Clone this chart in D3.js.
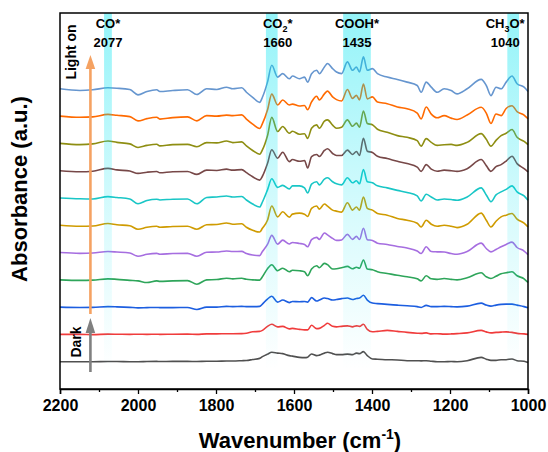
<!DOCTYPE html>
<html>
<head>
<meta charset="utf-8">
<script src="https://cdn.jsdelivr.net/npm/d3@7"></script>
<style>
  body { margin: 0; background: #fff; }
  text { font-family: Arial, "Liberation Sans", sans-serif; font-weight: bold; fill: #000; }
</style>
</head>
<body>
<div id="chart"></div>
<script>
// wavenumber grid (cm-1), shared by all spectra
var wavenumbers = [
  2200, 2149, 2116, 2077, 2054, 2021, 2000, 1977, 1952, 1944,
  1911, 1873, 1849, 1824, 1798, 1773, 1757, 1734, 1722, 1706,
  1688, 1681, 1668, 1657, 1642, 1629, 1612, 1604, 1586, 1573,
  1565, 1555, 1542, 1535, 1522, 1514, 1501, 1491, 1478, 1463,
  1450, 1440, 1432, 1422, 1412, 1399, 1386, 1361, 1335, 1310,
  1284, 1274, 1261, 1248, 1233, 1215, 1197, 1182, 1156, 1120,
  1107, 1095, 1082, 1069, 1056, 1041, 1028, 1010, 1000
];

// spectra, bottom (dark) to top (longest light on)
var specDark = [
  0, 0, 0, 0.002, 0.002, 0, 0, 0.002, 0.003, 0.002,
  0.003, 0.003, 0.002, 0.005, 0.005, 0.007, 0.007, 0.010, 0.012, 0.022,
  0.033, 0.050, 0.075, 0.093, 0.085, 0.080, 0.060, 0.055, 0.043, 0.040,
  0.045, 0.077, 0.060, 0.065, 0.085, 0.093, 0.080, 0.070, 0.070, 0.075,
  0.070, 0.085, 0.080, 0.100, 0.060, 0.027, 0.025, 0.020, 0.017, 0.010,
  0.010, 0.008, 0.010, 0.005, 0, 0, 0.002, 0, 0.010, 0.043,
  0.025, 0.013, 0.013, 0.020, 0.020, 0.027, 0.010, 0.005, -0.007
];
var spec1 = [
  0, 0, -0.002, 0.003, 0.002, 0, 0.002, 0, 0.002, 0,
  0.002, 0.003, 0, 0.005, 0.005, 0.007, 0.007, 0.008, 0.012, 0.026,
  0.030, 0.040, 0.080, 0.100, 0.075, 0.080, 0.055, 0.060, 0.050, 0.045,
  0.045, 0.090, 0.057, 0.060, 0.090, 0.110, 0.080, 0.075, 0.080, 0.085,
  0.075, 0.085, 0.080, 0.100, 0.050, 0.026, 0.030, 0.040, 0.030, 0.020,
  0.012, 0.010, 0.015, 0.005, 0.007, 0.003, 0.005, 0.008, 0.015, 0.040,
  0.025, 0.015, 0.020, 0.023, 0.025, 0.020, 0.010, 0.005, 0
];
var spec2 = [
  0, -0.003, -0.002, 0.005, 0.003, -0.002, -0.007, -0.005, -0.003, -0.005,
  -0.005, -0.003, -0.023, 0, 0, 0.007, 0.005, 0.007, 0.005, 0.005,
  0.007, 0.030, 0.080, 0.107, 0.050, 0.070, 0.045, 0.055, 0.053, 0.055,
  0.050, 0.094, 0.060, 0.070, 0.090, 0.085, 0.070, 0.075, 0.084, 0.090,
  0.075, 0.085, 0.090, 0.117, 0.070, 0.040, 0.035, 0.027, 0.020, 0.013,
  0.005, -0.003, 0.017, 0.005, 0.005, 0.007, 0.005, 0.003, 0.010, 0.040,
  0.020, 0.010, 0.020, 0.027, 0.030, 0.030, 0.020, 0.005, -0.007
];
var spec3 = [
  0, -0.005, -0.003, 0.010, 0.005, -0.005, -0.010, -0.027, -0.010, -0.015,
  -0.010, -0.008, -0.043, 0, 0.003, 0.016, 0.010, 0.015, 0.005, 0,
  -0.003, 0.030, 0.110, 0.150, 0.090, 0.115, 0.080, 0.095, 0.090, 0.080,
  0.040, 0.107, 0.140, 0.120, 0.163, 0.150, 0.107, 0.110, 0.120, 0.133,
  0.110, 0.125, 0.115, 0.197, 0.107, 0.100, 0.080, 0.063, 0.045, 0.030,
  0.010, -0.010, 0.040, 0.010, 0.005, 0.013, 0.005, 0, 0.020, 0.070,
  0.030, 0.013, 0.035, 0.060, 0.070, 0.080, 0.040, 0.010, -0.027
];
var spec4 = [
  0, -0.008, -0.005, 0.010, 0.005, -0.005, -0.037, -0.017, -0.008, -0.017,
  -0.010, -0.008, -0.037, 0.003, 0.005, 0.016, 0.010, 0.012, -0.010, -0.025,
  -0.030, 0.010, 0.080, 0.170, 0.083, 0.123, 0.085, 0.100, 0.090, 0.080,
  0.057, 0.127, 0.150, 0.130, 0.193, 0.175, 0.140, 0.120, 0.125, 0.180,
  0.130, 0.160, 0.130, 0.240, 0.127, 0.120, 0.093, 0.080, 0.060, 0.045,
  0.015, -0.010, 0.057, 0.010, 0.007, 0.005, -0.010, -0.017, 0.010, 0.093,
  0.040, 0.007, 0.030, 0.057, 0.080, 0.103, 0.050, 0.015, -0.020
];
var spec5 = [
  0, -0.010, -0.008, 0.017, 0.005, -0.005, -0.040, -0.020, -0.010, -0.020,
  -0.012, -0.010, -0.040, 0.005, 0.008, 0.023, 0.010, 0.015, -0.020, -0.050,
  -0.067, -0.030, 0.050, 0.190, 0.083, 0.133, 0.080, 0.110, 0.120, 0.110,
  0.087, 0.167, 0.190, 0.160, 0.210, 0.190, 0.150, 0.140, 0.130, 0.223,
  0.150, 0.180, 0.150, 0.280, 0.167, 0.150, 0.117, 0.100, 0.067, 0.050,
  0.020, -0.017, 0.050, 0.010, -0.010, 0, -0.010, -0.023, 0.010, 0.120,
  0.050, -0.017, 0.040, 0.083, 0.100, 0.117, 0.060, 0.020, -0.017
];
var spec6 = [
  0, -0.008, -0.010, 0.013, 0.005, -0.010, -0.057, -0.025, -0.012, -0.020,
  -0.012, -0.010, -0.057, 0.005, 0.010, 0.020, 0.010, 0.015, -0.020, -0.060,
  -0.090, -0.040, 0.080, 0.190, 0.105, 0.125, 0.090, 0.120, 0.120, 0.100,
  0.050, 0.137, 0.160, 0.130, 0.187, 0.200, 0.160, 0.140, 0.130, 0.200,
  0.150, 0.170, 0.140, 0.280, 0.160, 0.150, 0.120, 0.100, 0.075, 0.055,
  0.020, -0.030, 0.037, 0.010, -0.020, -0.010, -0.015, -0.023, 0.010, 0.100,
  0.030, -0.037, 0.030, 0.060, 0.085, 0.120, 0.060, 0.020, -0.023
];
var spec7 = [
  0, -0.010, -0.005, 0.023, 0.008, -0.003, -0.027, -0.015, -0.008, -0.020,
  -0.010, -0.008, -0.037, 0.005, 0.002, 0.015, 0.005, 0.010, -0.020, -0.060,
  -0.093, -0.055, 0.070, 0.207, 0.123, 0.183, 0.090, 0.110, 0.093, 0.100,
  0.027, 0.140, 0.160, 0.140, 0.200, 0.217, 0.170, 0.150, 0.150, 0.203,
  0.160, 0.190, 0.150, 0.320, 0.193, 0.180, 0.143, 0.120, 0.093, 0.070,
  0.035, -0.007, 0.060, 0.015, -0.005, 0.005, 0, -0.007, 0.020, 0.110,
  0.050, -0.007, 0.040, 0.060, 0.095, 0.143, 0.070, 0.020, -0.013
];
var spec8 = [
  0, -0.012, -0.005, 0.023, 0.010, -0.005, -0.040, -0.020, -0.008, -0.025,
  -0.012, -0.010, -0.033, 0.008, 0.005, 0.023, 0.008, 0.015, -0.025, -0.070,
  -0.107, -0.065, 0.075, 0.257, 0.117, 0.167, 0.100, 0.120, 0.090, 0.095,
  0.050, 0.150, 0.183, 0.150, 0.220, 0.233, 0.180, 0.150, 0.160, 0.233,
  0.170, 0.200, 0.160, 0.320, 0.197, 0.185, 0.140, 0.110, 0.077, 0.060,
  0.027, -0.027, 0.047, 0.010, -0.020, -0.013, -0.010, -0.020, 0.010, 0.097,
  0.040, -0.027, 0.030, 0.077, 0.100, 0.137, 0.060, 0.020, -0.013
];
var spec9 = [
  0, -0.012, -0.008, 0.017, 0.008, -0.005, -0.047, -0.025, -0.012, -0.030,
  -0.015, -0.008, -0.047, 0.005, 0, 0.010, 0.005, 0.012, -0.030, -0.080,
  -0.123, -0.075, 0.060, 0.217, 0.110, 0.160, 0.110, 0.118, 0.100, 0.105,
  0.063, 0.140, 0.197, 0.160, 0.220, 0.247, 0.190, 0.163, 0.150, 0.263,
  0.175, 0.205, 0.160, 0.317, 0.170, 0.190, 0.140, 0.123, 0.090, 0.073,
  0.030, -0.027, 0.090, 0.020, -0.017, 0.005, -0.020, -0.033, 0.010, 0.087,
  0.030, -0.073, 0.020, 0.005, 0.075, 0.103, 0.045, 0.010, -0.027
];
var spec10 = [
  0, -0.017, -0.010, 0.010, 0.006, -0.007, -0.060, -0.027, -0.010, -0.027,
  -0.017, -0.010, -0.057, 0, -0.007, 0.016, 0, 0.010, -0.034, -0.084,
  -0.134, -0.084, 0.066, 0.233, 0.116, 0.150, 0.100, 0.126, 0.100, 0.116,
  0.066, 0.150, 0.183, 0.150, 0.216, 0.250, 0.200, 0.166, 0.150, 0.266,
  0.183, 0.216, 0.166, 0.316, 0.183, 0.200, 0.150, 0.116, 0.093, 0.066,
  0.033, -0.034, 0.066, 0.016, -0.034, 0, -0.017, -0.050, 0, 0.093,
  0.033, -0.067, 0.016, 0, 0.066, 0.126, 0.050, 0.016, -0.027
];

var spectra = [specDark, spec1, spec2, spec3, spec4, spec5, spec6, spec7, spec8, spec9, spec10];
// vertical stacking offsets (a.u.)
var offsets = [0.27, 0.54, 0.81, 1.08, 1.35, 1.62, 1.89, 2.16, 2.43, 2.70, 2.97];
var colors = ['#505050', '#f03c3c', '#1c5ee0', '#2ea55a', '#a66ee0', '#cf9b00',
              '#19c6c6', '#774848', '#8e8e12', '#ff6a00', '#6696cf'];

// highlighted bands (cm-1) and labels
var bandRanges = [[2087, 2067], [1672, 1642], [1474, 1403], [1053, 1023]];
var bandNames = ['CO*', 'CO2*', 'COOH*', 'CH3O*'];
var bandPeaks = ['2077', '1660', '1435', '1040'];

var xTicks = [2200, 2000, 1800, 1600, 1400, 1200, 1000];
var xMinorTicks = [2100, 1900, 1700, 1500, 1300, 1100];

var svgWidth = 548;
var svgHeight = 452;
var margin = { top: 13, right: 20, bottom: 63, left: 60 };
var width = svgWidth - margin.left - margin.right;
var height = svgHeight - margin.top - margin.bottom;

var svg = d3.select('#chart')
  .append('svg')
  .attr('width', svgWidth)
  .attr('height', svgHeight);

var defs = svg.append('defs');
var grad = defs.append('linearGradient')
  .attr('id', 'bandGrad')
  .attr('x1', 0).attr('y1', 0).attr('x2', 0).attr('y2', 1);
grad.append('stop').attr('offset', '0%').attr('stop-color', '#00e4f0').attr('stop-opacity', 0.42);
grad.append('stop').attr('offset', '55%').attr('stop-color', '#00e4f0').attr('stop-opacity', 0.15);
grad.append('stop').attr('offset', '95%').attr('stop-color', '#00e4f0').attr('stop-opacity', 0);

var chartGroup = svg.append('g')
  .attr('transform', `translate(${margin.left}, ${margin.top})`);

var x = d3.scaleLinear().domain([2200, 1000]).range([0, width]);
var y = d3.scaleLinear().domain([0, 3.72]).range([height, 0]);

// spectra
var line = d3.line()
  .x(function (d, i) { return x(wavenumbers[i]); })
  .y(function (d) { return y(d); })
  .curve(d3.curveMonotoneX);

spectra.forEach(function (s, k) {
  var vals = s.map(function (v) { return v + offsets[k]; });
  chartGroup.append('path')
    .datum(vals)
    .attr('d', line)
    .attr('fill', 'none')
    .attr('stroke', colors[k])
    .attr('stroke-width', 1.6)
    .attr('stroke-linejoin', 'round');
});

// cyan bands (drawn over curves, fading downward)
chartGroup.selectAll('.band')
  .data(bandRanges)
  .enter()
  .append('rect')
  .attr('class', 'band')
  .attr('x', function (d) { return x(d[0]); })
  .attr('width', function (d) { return x(d[1]) - x(d[0]); })
  .attr('y', 0)
  .attr('height', height)
  .attr('fill', 'url(#bandGrad)');

// band labels
var labelShift = [0, 6, 0, -8];
bandRanges.forEach(function (d, i) {
  var cx = x((d[0] + d[1]) / 2) + labelShift[i];
  var t = chartGroup.append('text')
    .attr('x', cx)
    .attr('y', 15)
    .attr('text-anchor', 'middle')
    .style('font-size', '13px');
  if (bandNames[i] === 'CO2*') {
    t.append('tspan').text('CO');
    t.append('tspan').attr('dy', 4).style('font-size', '9px').text('2');
    t.append('tspan').attr('dy', -4).text('*');
  } else if (bandNames[i] === 'CH3O*') {
    t.append('tspan').text('CH');
    t.append('tspan').attr('dy', 4).style('font-size', '9px').text('3');
    t.append('tspan').attr('dy', -4).text('O*');
  } else {
    t.text(bandNames[i]);
  }
  chartGroup.append('text')
    .attr('x', cx)
    .attr('y', 34)
    .attr('text-anchor', 'middle')
    .style('font-size', '13px')
    .text(bandPeaks[i]);
});

// arrows
var arrowX = x(2122);
chartGroup.append('line')
  .attr('x1', arrowX).attr('x2', arrowX)
  .attr('y1', 301).attr('y2', 52)
  .attr('stroke', '#f5a262').attr('stroke-width', 2.6);
chartGroup.append('path')
  .attr('d', `M${arrowX},${42} L${arrowX - 4.8},${56} L${arrowX + 4.8},${56} Z`)
  .attr('fill', '#f5a262');
chartGroup.append('line')
  .attr('x1', arrowX).attr('x2', arrowX)
  .attr('y1', 359).attr('y2', 318)
  .attr('stroke', '#808080').attr('stroke-width', 2.6);
chartGroup.append('path')
  .attr('d', `M${arrowX},${305} L${arrowX - 4.8},${320} L${arrowX + 4.8},${320} Z`)
  .attr('fill', '#808080');

chartGroup.append('text')
  .attr('transform', `translate(16, 39) rotate(-90)`)
  .attr('text-anchor', 'middle')
  .style('font-size', '14px')
  .text('Light on');
chartGroup.append('text')
  .attr('transform', `translate(21, 329) rotate(-90)`)
  .attr('text-anchor', 'middle')
  .style('font-size', '14px')
  .text('Dark');

// frame
chartGroup.append('rect')
  .attr('x', 0).attr('y', 0)
  .attr('width', width).attr('height', height)
  .attr('fill', 'none')
  .attr('stroke', '#000')
  .attr('stroke-width', 1.5);

// x axis
var bottomAxis = d3.axisBottom(x)
  .tickValues(xTicks)
  .tickSize(5)
  .tickPadding(6)
  .tickFormat(d3.format('d'));
var xAxis = chartGroup.append('g')
  .attr('transform', `translate(0, ${height})`)
  .call(bottomAxis);
xAxis.select('.domain').attr('stroke-width', 1.5);
xAxis.selectAll('.tick line').attr('stroke-width', 1.3);
xAxis.selectAll('text')
  .style('font-size', '16px')
  .style('font-family', 'Arial, "Liberation Sans", sans-serif')
  .style('font-weight', 'bold');

var minorAxis = d3.axisBottom(x)
  .tickValues(xMinorTicks)
  .tickSize(3)
  .tickFormat('');
var xMinor = chartGroup.append('g')
  .attr('transform', `translate(0, ${height})`)
  .call(minorAxis);
xMinor.select('.domain').remove();
xMinor.selectAll('.tick line').attr('stroke-width', 1.3);

// axis titles
var xTitle = svg.append('text')
  .attr('x', margin.left + width / 2 + 6)
  .attr('y', 448)
  .attr('text-anchor', 'middle')
  .style('font-size', '22px');
xTitle.append('tspan').text('Wavenumber (cm');
xTitle.append('tspan').attr('dy', -9).style('font-size', '14px').text('-1');
xTitle.append('tspan').attr('dy', 9).text(')');

svg.append('text')
  .attr('transform', `translate(27, ${margin.top + 176}) rotate(-90)`)
  .attr('text-anchor', 'middle')
  .style('font-size', '22px')
  .text('Absorbance (a.u.)');
</script>
</body>
</html>
